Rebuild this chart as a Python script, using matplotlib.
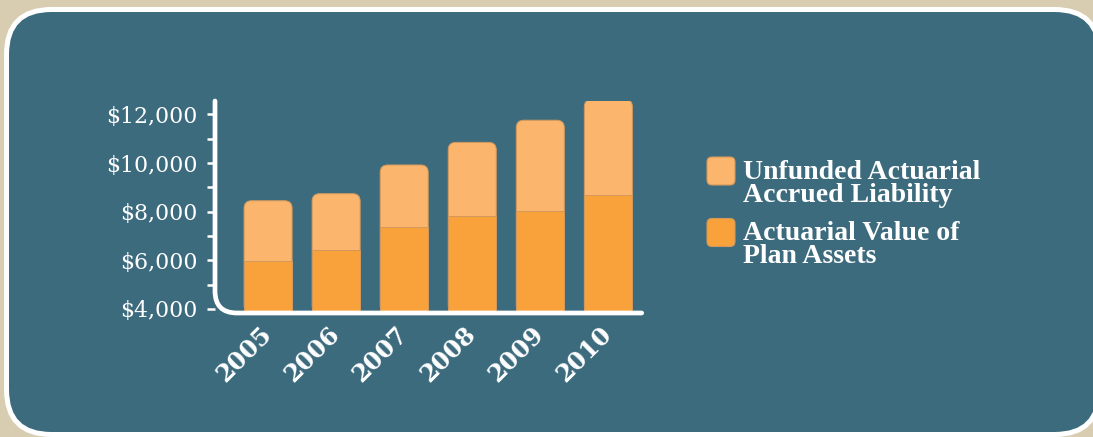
import matplotlib.pyplot as plt
import numpy as np
from matplotlib.patches import FancyBboxPatch, PathPatch
from matplotlib.path import Path
from matplotlib.ticker import FuncFormatter

# data
years = ["2005", "2006", "2007", "2008", "2009", "2010"]
plan_assets = [5970, 6430, 7370, 7820, 8020, 8670]
unfunded_liability = [2480, 2310, 2550, 3030, 3740, 3950]
y_ticks = [4000, 6000, 8000, 10000, 12000]
y_minor = [5000, 7000, 9000, 11000]
legend_labels = [
    "Unfunded Actuarial\nAccrued Liability",
    "Actuarial Value of\nPlan Assets",
]

BEIGE = "#d9cdb1"
TEAL = "#3c6b7e"
LIGHT = "#fbb56c"
DARK = "#f9a23b"
EDGE = "#d2985c"

W, H = 1093, 437
fig = plt.figure(figsize=(W / 100, H / 100), dpi=100, facecolor=BEIGE)

# background panel, drawn in pixel coordinates
bg = fig.add_axes([0, 0, 1, 1])
bg.set_xlim(0, W)
bg.set_ylim(H, 0)
bg.axis("off")
bg.add_patch(
    FancyBboxPatch(
        (6.5, 9.5), 1093, 425,
        boxstyle="round,pad=0,rounding_size=45",
        fc=TEAL, ec="white", lw=3.6,
    )
)

# main chart
ax_left, ax_right, ax_top, ax_bottom = 215, 641.7, 101, 313
ax = fig.add_axes([ax_left / W, 1 - ax_bottom / H, (ax_right - ax_left) / W, (ax_bottom - ax_top) / H])
ax.set_facecolor("none")
for s in ax.spines.values():
    s.set_visible(False)

x = np.arange(len(years))
xlim = (-0.78, 5.49)
ylim = (3835, 12550)
ax.set_xlim(*xlim)
ax.set_ylim(*ylim)

# keep rounded corners circular in pixels
px_per_x = (ax_right - ax_left) / (xlim[1] - xlim[0])
px_per_y = (ax_bottom - ax_top) / (ylim[1] - ylim[0])
aspect = px_per_x / px_per_y
radius = 7.5 / px_per_x

width = 0.706
tops = ax.bar(x, unfunded_liability, width, bottom=plan_assets, color=LIGHT)
for rect in tops:
    rx, ry = rect.get_x(), rect.get_y()
    rw, rh = rect.get_width(), rect.get_height()
    rect.set_visible(False)
    ax.add_patch(
        FancyBboxPatch(
            (rx, ylim[0]), rw, ry + rh - ylim[0],
            boxstyle=f"round,pad=0,rounding_size={radius}",
            mutation_aspect=aspect,
            fc=LIGHT, ec=EDGE, lw=0.7, zorder=2,
        )
    )
ax.bar(x, plan_assets, width, color=DARK, edgecolor=EDGE, linewidth=0.7, zorder=3)

# L-shaped axis line with a rounded corner
rx_ax = 22 / (ax_right - ax_left)
ry_ax = 22 / (ax_bottom - ax_top)
axis_path = Path(
    [(0, 1), (0, ry_ax), (0, 0), (rx_ax, 0), (1, 0)],
    [Path.MOVETO, Path.LINETO, Path.CURVE3, Path.CURVE3, Path.LINETO],
)
ax.add_patch(
    PathPatch(
        axis_path, transform=ax.transAxes, fill=False, ec="white",
        lw=3.4, capstyle="round", joinstyle="round", clip_on=False, zorder=5,
    )
)

ax.set_yticks(y_ticks)
ax.set_yticks(y_minor, minor=True)
ax.yaxis.set_major_formatter(FuncFormatter(lambda v, _: f"${v:,.0f}"))
ax.tick_params(axis="y", which="both", direction="out", length=5.8, width=1.8,
               color="white", pad=6.5, labelsize=15.8, labelcolor="white")
for lab in ax.get_yticklabels():
    lab.set_fontfamily("DejaVu Serif")

ax.set_xticks(x)
ax.set_xticklabels(years, rotation=45, ha="right", va="center", rotation_mode="anchor",
                   fontweight="bold", fontsize=17.5, family="DejaVu Serif", color="white")
ax.tick_params(axis="x", length=0, pad=12.5)

# legend, drawn by hand (baseline refers to the last line)
legend_colors = [LIGHT, DARK]
box_tops = [157, 218.5]
for color, label, top in zip(legend_colors, legend_labels, box_tops):
    bg.add_patch(
        FancyBboxPatch(
            (707, top), 28, 28,
            boxstyle="round,pad=0,rounding_size=5",
            fc=color, ec=EDGE, lw=0.8,
        )
    )
    bg.text(743, top + 44.5, label, color="white", fontsize=20, linespacing=0.89,
            fontweight="bold", family="Liberation Serif", va="baseline", ha="left")

fig.savefig("out.png", dpi=100, facecolor=BEIGE)
